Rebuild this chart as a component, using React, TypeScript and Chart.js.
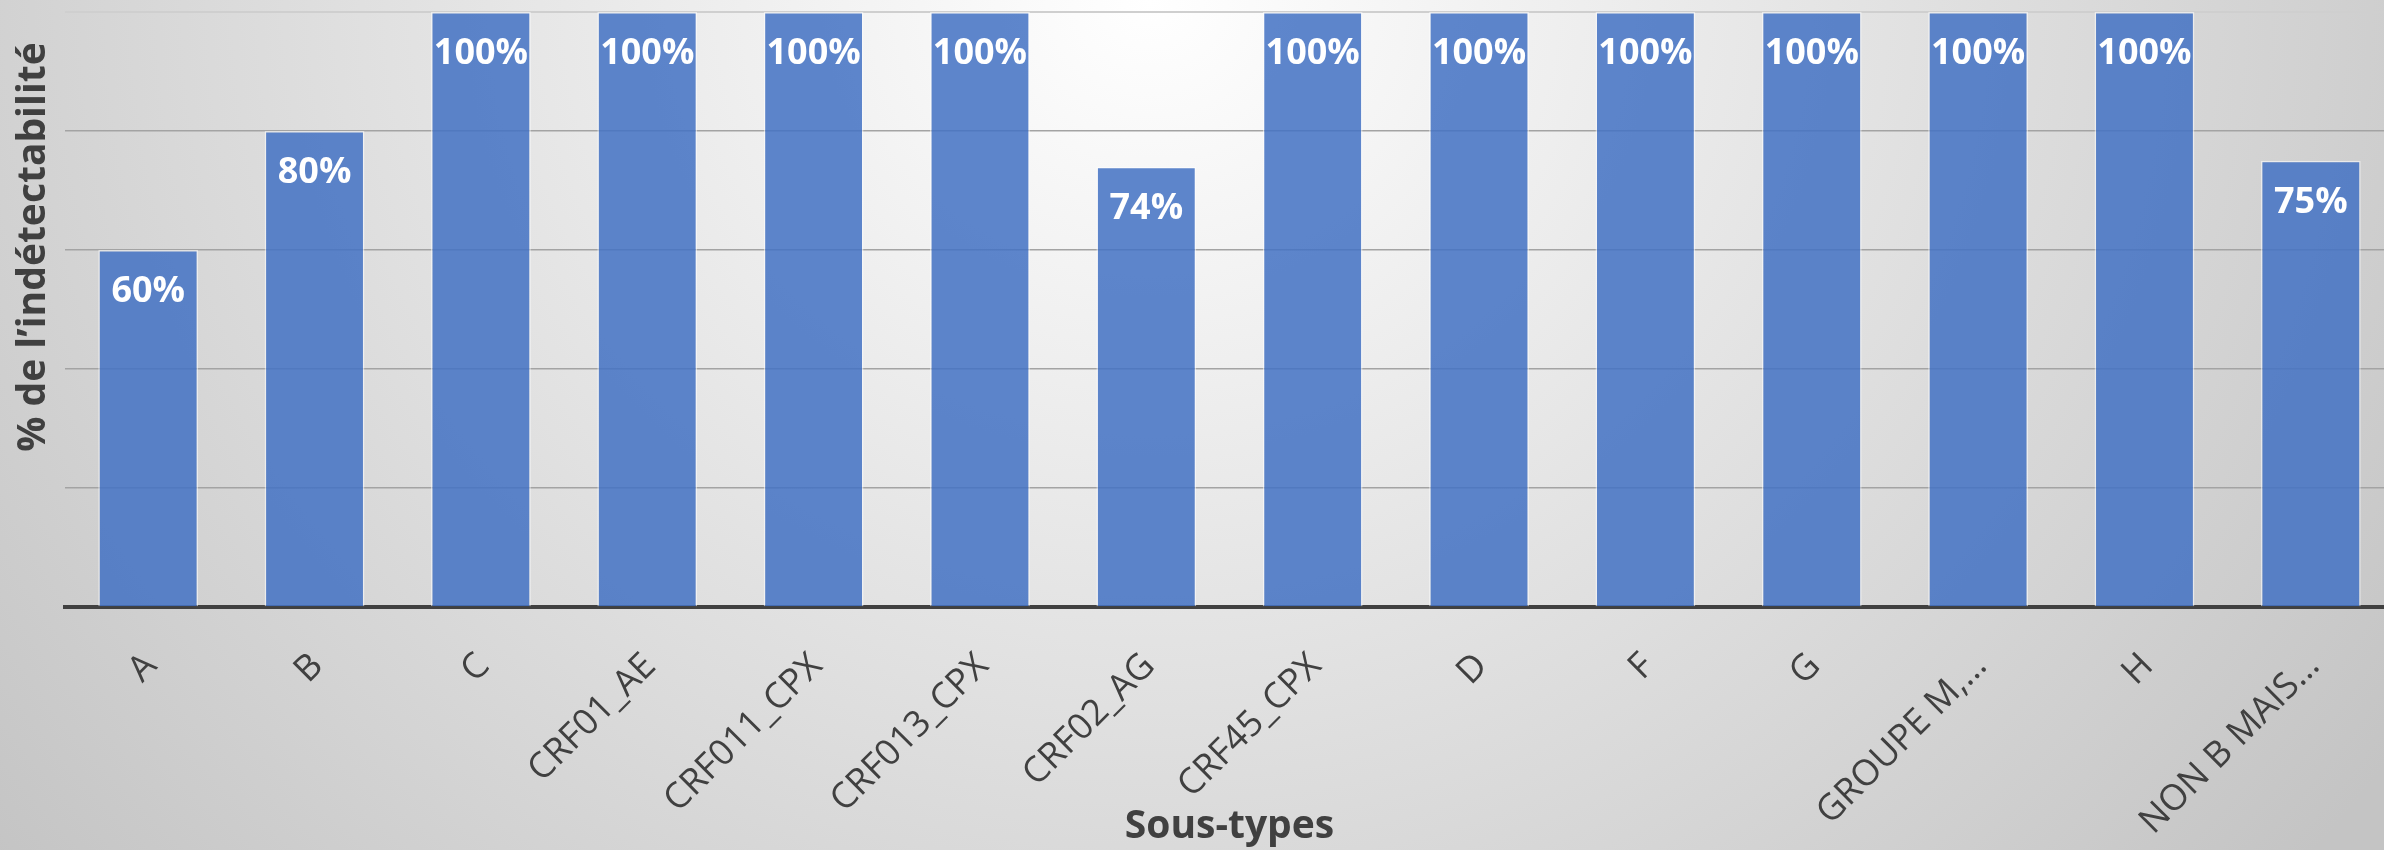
import React, { useEffect, useRef } from "react";
import { Chart, registerables } from "chart.js";

Chart.register(...registerables);

const categories = [
  "A",
  "B",
  "C",
  "CRF01_AE",
  "CRF011_CPX",
  "CRF013_CPX",
  "CRF02_AG",
  "CRF45_CPX",
  "D",
  "F",
  "G",
  "GROUPE M,…",
  "H",
  "NON B MAIS…",
];
const values = [60, 80, 100, 100, 100, 100, 74, 100, 100, 100, 100, 100, 100, 75];
const yMin = 0;
const yMax = 100;
const yStep = 20;
const yTitle = "% de l’indétectabilité";
const xTitle = "Sous-types";

const FONT = '"Open Sans", "DejaVu Sans", sans-serif';

const barLabels = {
  id: "barLabels",
  afterDatasetsDraw(chart: any) {
    const ctx = chart.ctx;
    const meta = chart.getDatasetMeta(0);
    ctx.save();
    ctx.font = `bold 36px ${FONT}`;
    ctx.fillStyle = "#ffffff";
    ctx.textAlign = "center";
    ctx.textBaseline = "middle";
    meta.data.forEach((bar: any, i: number) => {
      ctx.fillText(values[i] + "%", bar.x, bar.y + 42);
    });
    ctx.restore();
  },
};

const yTitlePlugin = {
  id: "yTitlePlugin",
  afterDraw(chart: any) {
    const ctx = chart.ctx;
    ctx.save();
    ctx.translate(34, 247);
    ctx.rotate(-Math.PI / 2);
    ctx.font = `bold 39px ${FONT}`;
    ctx.fillStyle = "#404040";
    ctx.textAlign = "center";
    ctx.textBaseline = "middle";
    ctx.fillText(yTitle, 0, 0);
    ctx.restore();
  },
};

export default function App() {
  const ref = useRef<HTMLCanvasElement | null>(null);

  useEffect(() => {
    if (!ref.current) return;
    const chart = new Chart(ref.current, {
      type: "bar",
      data: {
        labels: categories,
        datasets: [
          {
            data: values,
            backgroundColor: "rgba(68,114,196,0.86)",
            borderColor: "rgba(255,255,255,0.55)",
            borderWidth: 1.5,
            borderSkipped: "bottom",
            barPercentage: 0.6,
            categoryPercentage: 1,
          },
        ],
      },
      options: {
        responsive: false,
        animation: false,
        devicePixelRatio: 1,
        layout: { padding: { top: 12, left: 0, right: 0, bottom: 0 } },
        plugins: {
          legend: { display: false },
          tooltip: { enabled: false },
          title: { display: false },
        },
        scales: {
          x: {
            grid: { display: false, drawTicks: false },
            border: { display: true, color: "#404040", width: 4 },
            ticks: {
              autoSkip: false,
              maxRotation: 45,
              minRotation: 45,
              padding: 38,
              labelOffset: 3,
              color: "#404040",
              font: { family: FONT, size: 36 },
            },
            title: {
              display: true,
              text: xTitle,
              color: "#404040",
              font: { family: FONT, size: 39, weight: "bold" },
              padding: { top: 0, bottom: 0 },
            },
            afterFit: (scale: any) => {
              scale.height = 243;
            },
          },
          y: {
            min: yMin,
            max: yMax,
            ticks: { display: false, stepSize: yStep },
            border: { display: false },
            grid: {
              drawTicks: false,
              color: (c: any) => (c.tick && c.tick.value === yMax ? "#cfcfcf" : "#a3a3a3"),
              lineWidth: (c: any) => (c.tick && c.tick.value === yMax ? 2 : 1.5),
            },
            afterFit: (scale: any) => {
              scale.width = 65;
            },
          },
        },
      },
      plugins: [barLabels, yTitlePlugin],
    });
    return () => chart.destroy();
  }, []);

  return (
    <div
      style={{
        position: "fixed",
        left: 0,
        top: 0,
        width: 2384,
        height: 850,
        overflow: "hidden",
        background:
          "radial-gradient(1500px 1350px at 1150px 0px, #ffffff 0%, #c4c4c4 100%)",
      }}
    >
      <canvas ref={ref} width={2394} height={850} style={{ display: "block" }} />
    </div>
  );
}
